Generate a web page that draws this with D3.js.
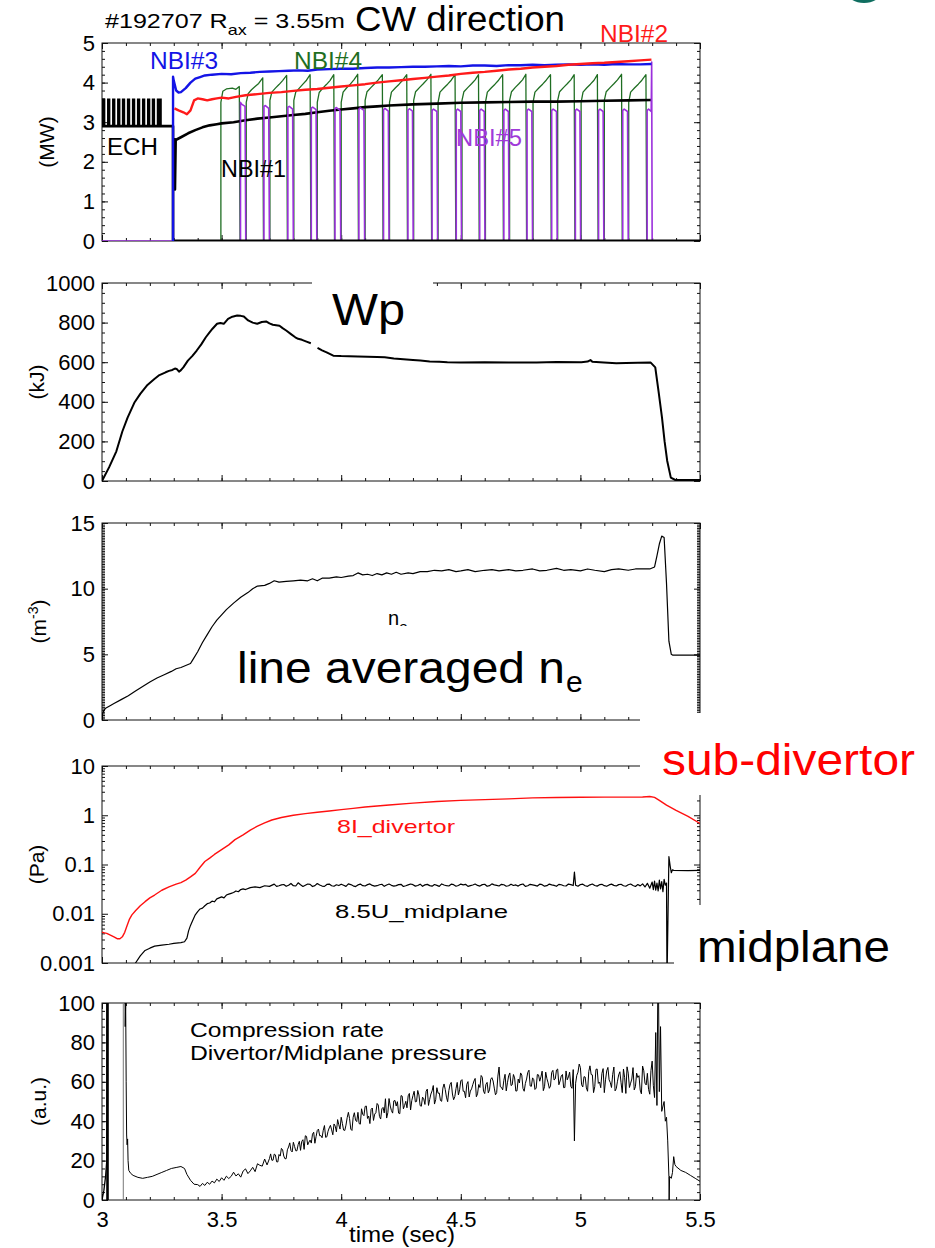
<!DOCTYPE html>
<html>
<head>
<meta charset="utf-8">
<script src="https://cdn.jsdelivr.net/npm/d3@7"></script>
<style>
  body { margin: 0; background: #fff; }
  text { font-family: "Liberation Sans", Arial, Helvetica, sans-serif; }
</style>
</head>
<body>
<svg id="chart" width="935" height="1248"></svg>
<script>
// ---------- tick labels ----------
const xTicks   = [3, 3.5, 4, 4.5, 5, 5.5];
const mwTicks  = [0, 1, 2, 3, 4, 5];
const kjTicks  = [0, 200, 400, 600, 800, 1000];
const neTicks  = [0, 5, 10, 15];
const paTicks  = [0.001, 0.01, 0.1, 1, 10];
const paLabels = ['0.001', '0.01', '0.1', '1', '10'];
const auTicks  = [0, 20, 40, 60, 80, 100];

// ---------- heating (MW) ----------
const echRise = [3.000, 3.021, 3.042, 3.063, 3.083, 3.104, 3.125, 3.146, 3.167, 3.188, 3.208, 3.229];
const echFall = [3.014, 3.035, 3.056, 3.077, 3.097, 3.118, 3.139, 3.160, 3.181, 3.202, 3.222, 3.250];
const echBase = 2.9, echTop = 3.6, echEnd = 3.297;

const nbi3 = [[3.297,0],[3.297,4.15],[3.30,4.05],[3.31,3.8],[3.32,3.75],[3.33,3.76],[3.35,3.86],[3.37,4.0],
  [3.39,4.1],[3.41,4.14],[3.43,4.18],[3.46,4.2],[3.5,4.22],[3.54,4.21],[3.58,4.24],[3.62,4.25],[3.66,4.27],
  [3.70,4.28],[3.74,4.29],[3.78,4.3],[3.82,4.31],[3.86,4.30],[3.9,4.33],[3.95,4.34],[4.0,4.35],[4.05,4.35],
  [4.1,4.37],[4.15,4.38],[4.2,4.38],[4.25,4.39],[4.3,4.40],[4.35,4.40],[4.4,4.41],[4.45,4.42],[4.5,4.41],
  [4.55,4.43],[4.6,4.43],[4.65,4.42],[4.7,4.44],[4.75,4.44],[4.8,4.45],[4.85,4.44],[4.9,4.45],[4.95,4.46],
  [5.0,4.45],[5.05,4.46],[5.1,4.45],[5.15,4.47],[5.2,4.46],[5.25,4.46],[5.297,4.47]];

const nbi2 = [[3.303,3.35],[3.32,3.3],[3.34,3.25],[3.355,3.2],[3.37,3.3],[3.385,3.55],[3.40,3.6],
  [3.42,3.58],[3.44,3.55],[3.46,3.58],[3.48,3.6],[3.50,3.62],[3.53,3.6],[3.56,3.64],[3.6,3.68],[3.65,3.71],
  [3.7,3.74],[3.75,3.76],[3.8,3.79],[3.85,3.82],[3.9,3.84],[3.95,3.87],[4.0,3.9],[4.05,3.93],[4.1,3.96],
  [4.15,4.0],[4.2,4.03],[4.25,4.06],[4.3,4.09],[4.35,4.12],[4.4,4.15],[4.45,4.18],[4.5,4.22],[4.55,4.25],
  [4.6,4.27],[4.65,4.3],[4.7,4.33],[4.75,4.35],[4.8,4.38],[4.85,4.4],[4.9,4.42],[4.95,4.45],[5.0,4.47],
  [5.05,4.49],[5.1,4.5],[5.15,4.52],[5.2,4.54],[5.25,4.56],[5.297,4.58]];

const nbi1 = [[3.303,2.6],[3.305,1.3],[3.308,2.55],[3.33,2.62],[3.36,2.72],[3.39,2.8],[3.42,2.87],
  [3.45,2.92],[3.48,2.95],[3.5,2.97],[3.55,3.0],[3.6,3.05],[3.65,3.09],[3.7,3.12],[3.75,3.15],[3.8,3.18],
  [3.85,3.21],[3.9,3.25],[3.95,3.29],[4.0,3.32],[4.05,3.35],[4.1,3.38],[4.15,3.40],[4.2,3.42],[4.3,3.45],
  [4.4,3.47],[4.5,3.49],[4.6,3.5],[4.7,3.51],[4.8,3.52],[4.9,3.52],[5.0,3.53],[5.1,3.54],[5.2,3.55],
  [5.297,3.56]];
const nbiZero = [[3.30,0],[5.5,0]];

const nbi4 = [
  [3.497,0],[3.497,3.5],[3.505,3.78],[3.52,3.84],[3.545,3.86],[3.56,3.83],[3.574,3.9],[3.577,0],
  [3.603,0],[3.603,3.5],[3.611,3.72],[3.625,3.82],[3.64,3.9],[3.655,3.98],[3.672,4.12],[3.675,0],
  [3.702,0],[3.702,3.55],[3.71,3.76],[3.725,3.86],[3.74,3.95],[3.755,4.05],[3.772,4.18],[3.775,0],
  [3.802,0],[3.802,3.55],[3.81,3.76],[3.825,3.86],[3.84,3.96],[3.855,4.06],[3.870,4.2],[3.873,0],
  [3.900,0],[3.900,3.5],[3.908,3.75],[3.923,3.86],[3.938,3.95],[3.953,4.05],[3.969,4.2],[3.972,0],
  [4.000,0],[4.000,3.5],[4.008,3.76],[4.023,3.87],[4.038,3.96],[4.053,4.07],[4.069,4.21],[4.072,0],
  [4.100,0],[4.100,3.55],[4.108,3.77],[4.125,3.88],[4.14,3.97],[4.155,4.07],[4.172,4.2],[4.175,0],
  [4.202,0],[4.202,3.5],[4.21,3.76],[4.227,3.87],[4.242,3.96],[4.257,4.06],[4.274,4.2],[4.277,0],
  [4.303,0],[4.303,3.55],[4.311,3.77],[4.328,3.88],[4.343,3.97],[4.358,4.07],[4.375,4.21],[4.378,0],
  [4.405,0],[4.405,3.5],[4.413,3.76],[4.43,3.87],[4.445,3.96],[4.46,4.06],[4.476,4.2],[4.479,0],
  [4.505,0],[4.505,3.55],[4.513,3.77],[4.53,3.88],[4.545,3.97],[4.56,4.07],[4.574,4.2],[4.577,0],
  [4.603,0],[4.603,3.5],[4.611,3.76],[4.628,3.87],[4.643,3.96],[4.658,4.06],[4.675,4.2],[4.678,0],
  [4.704,0],[4.704,3.55],[4.712,3.77],[4.728,3.88],[4.743,3.97],[4.758,4.07],[4.772,4.21],[4.775,0],
  [4.802,0],[4.802,3.5],[4.81,3.76],[4.827,3.87],[4.842,3.96],[4.857,4.06],[4.875,4.2],[4.878,0],
  [4.905,0],[4.905,3.55],[4.913,3.77],[4.93,3.88],[4.945,3.97],[4.96,4.07],[4.974,4.2],[4.977,0],
  [5.003,0],[5.003,3.5],[5.011,3.76],[5.027,3.87],[5.042,3.96],[5.057,4.06],[5.071,4.2],[5.074,0],
  [5.100,0],[5.100,3.55],[5.108,3.77],[5.125,3.88],[5.14,3.97],[5.155,4.07],[5.172,4.21],[5.175,0],
  [5.202,0],[5.202,3.5],[5.21,3.76],[5.227,3.87],[5.242,3.96],[5.257,4.06],[5.274,4.2],[5.277,0]];

const nbi5 = [[3.0,0],[3.296,0],[3.296,3.6],[3.298,0],
  [3.579,0],[3.579,3.5],[3.585,3.45],[3.598,3.4],[3.601,0],
  [3.677,0],[3.677,3.4],[3.683,3.42],[3.697,3.35],[3.700,0],
  [3.777,0],[3.777,3.38],[3.783,3.4],[3.797,3.33],[3.800,0],
  [3.875,0],[3.875,3.36],[3.881,3.38],[3.895,3.32],[3.898,0],
  [3.974,0],[3.974,3.35],[3.98,3.37],[3.995,3.3],[3.998,0],
  [4.074,0],[4.074,3.33],[4.08,3.36],[4.095,3.3],[4.098,0],
  [4.177,0],[4.177,3.32],[4.183,3.35],[4.197,3.28],[4.200,0],
  [4.279,0],[4.279,3.3],[4.285,3.34],[4.298,3.28],[4.301,0],
  [4.380,0],[4.380,3.3],[4.386,3.33],[4.400,3.27],[4.403,0],
  [4.481,0],[4.481,3.3],[4.487,3.33],[4.500,3.27],[4.503,0],
  [4.579,0],[4.579,3.3],[4.585,3.33],[4.598,3.27],[4.601,0],
  [4.680,0],[4.680,3.3],[4.686,3.33],[4.699,3.27],[4.702,0],
  [4.777,0],[4.777,3.3],[4.783,3.33],[4.797,3.27],[4.800,0],
  [4.880,0],[4.880,3.3],[4.886,3.33],[4.900,3.27],[4.903,0],
  [4.979,0],[4.979,3.3],[4.985,3.33],[4.998,3.27],[5.001,0],
  [5.076,0],[5.076,3.3],[5.082,3.33],[5.095,3.27],[5.098,0],
  [5.177,0],[5.177,3.3],[5.183,3.33],[5.197,3.27],[5.200,0],
  [5.279,0],[5.279,3.3],[5.285,3.33],[5.296,3.27],[5.298,4.52],[5.300,0]];

// ---------- stored energy (kJ) ----------
const wpA = [[3.0,0],[3.03,70],[3.06,150],[3.085,250],[3.107,320],[3.135,395],[3.16,440],[3.19,485],
  [3.219,515],[3.24,535],[3.266,549],[3.28,556],[3.294,561],[3.305,568],[3.312,566],[3.322,552],
  [3.33,560],[3.34,574],[3.359,608],[3.378,632],[3.396,659],[3.415,690],[3.434,726],[3.448,748],
  [3.462,769],[3.481,794],[3.495,798],[3.509,794],[3.527,819],[3.545,830],[3.565,836],[3.58,834],
  [3.593,831],[3.611,811],[3.63,800],[3.649,794],[3.668,803],[3.686,806],[3.7,796],[3.714,789],
  [3.742,784],[3.755,772],[3.770,760],[3.79,742],[3.808,726],[3.82,718],[3.836,713],[3.855,704],[3.873,696]];
const wpB = [[3.901,672],[3.92,660],[3.939,650],[3.967,633],[4.0,631],[4.032,630],[4.07,629],[4.11,628],
  [4.15,626],[4.182,625],[4.22,619],[4.26,615],[4.3,611],[4.331,608],[4.37,604],[4.41,602],[4.444,600],
  [4.5,599],[4.6,600],[4.7,598],[4.817,598],[4.9,601],[5.004,600],[5.03,603],[5.042,611],[5.05,602],
  [5.098,598],[5.15,595],[5.191,596],[5.24,597],[5.294,598],[5.313,574],[5.327,450],[5.341,321],
  [5.352,200],[5.363,101],[5.378,17],[5.397,5],[5.5,5]];

// ---------- line averaged density ----------
const ne = [[3.0,0],[3.003,0.5],[3.007,0.7],[3.015,0.9],[3.03,1.05],[3.05,1.25],[3.08,1.55],[3.11,1.85],
  [3.14,2.2],[3.17,2.55],[3.2,2.9],[3.23,3.2],[3.26,3.45],[3.29,3.7],[3.31,3.9],[3.33,4.0],[3.35,4.15],
  [3.37,4.3],[3.38,4.6],[3.40,5.2],[3.42,5.9],[3.44,6.5],[3.46,7.1],[3.48,7.6],[3.50,8.0],[3.52,8.4],
  [3.55,8.9],[3.58,9.35],[3.61,9.7],[3.63,10.0],[3.65,10.2],[3.68,10.25],[3.70,10.4],[3.72,10.6],
  [3.74,10.5],[3.77,10.55],[3.80,10.6],[3.83,10.65],[3.86,10.6],[3.88,10.75],[3.90,10.6],[3.92,10.8],
  [3.95,10.8],[3.98,10.9],[4.0,10.85],[4.03,10.95],[4.05,11.0],[4.07,11.2],[4.09,11.05],[4.11,11.1],
  [4.13,11.0],[4.15,11.15],[4.17,11.05],[4.19,11.2],[4.21,11.1],[4.23,11.25],[4.25,11.1],[4.28,11.2],
  [4.30,11.15],[4.33,11.3],[4.36,11.3],[4.39,11.4],[4.42,11.35],[4.45,11.45],[4.48,11.3],[4.5,11.35],
  [4.53,11.45],[4.56,11.3],[4.6,11.4],[4.63,11.45],[4.66,11.35],[4.7,11.45],[4.73,11.35],[4.76,11.4],
  [4.8,11.5],[4.83,11.35],[4.86,11.4],[4.9,11.55],[4.93,11.4],[4.96,11.45],[5.0,11.35],[5.03,11.5],
  [5.06,11.4],[5.1,11.3],[5.13,11.45],[5.16,11.5],[5.2,11.4],[5.23,11.5],[5.26,11.5],[5.29,11.5],
  [5.31,11.65],[5.32,12.5],[5.33,13.4],[5.34,14.0],[5.35,13.9],[5.36,10.4],[5.37,6.0],[5.38,5.0],
  [5.385,4.94],[5.5,4.94]];

// ---------- neutral pressure (Pa) ----------
const divertor = [[3.0,0.0042],[3.01,0.0041],[3.02,0.004],[3.035,0.0037],[3.05,0.0034],[3.065,0.0031],
  [3.075,0.0031],[3.085,0.0034],[3.095,0.0042],[3.105,0.0058],[3.115,0.0078],[3.125,0.0095],[3.14,0.0115],
  [3.16,0.0145],[3.18,0.0176],[3.2,0.021],[3.22,0.024],[3.25,0.03],[3.28,0.035],[3.31,0.04],[3.33,0.043],
  [3.35,0.048],[3.37,0.056],[3.39,0.066],[3.41,0.088],[3.43,0.115],[3.45,0.135],[3.47,0.16],[3.5,0.2],
  [3.53,0.25],[3.556,0.32],[3.59,0.4],[3.62,0.5],[3.65,0.6],[3.68,0.7],[3.71,0.8],[3.75,0.9],[3.8,1.0],
  [3.85,1.08],[3.9,1.15],[3.95,1.22],[4.0,1.3],[4.05,1.38],[4.1,1.47],[4.2,1.62],[4.3,1.76],[4.4,1.9],
  [4.5,2.0],[4.6,2.08],[4.7,2.15],[4.8,2.25],[4.9,2.3],[5.0,2.32],[5.1,2.33],[5.2,2.33],[5.26,2.35],
  [5.29,2.4],[5.31,2.3],[5.33,2.0],[5.36,1.6],[5.4,1.25],[5.45,0.95],[5.5,0.68]];

const midplane = [[3.13,0.0008],[3.14,0.001],[3.16,0.0014],[3.18,0.0018],[3.2,0.002],[3.22,0.0022],
  [3.25,0.0023],[3.28,0.0024],[3.3,0.0025],[3.33,0.0026],[3.345,0.0027],[3.355,0.0032],[3.362,0.0045],
  [3.37,0.0058],[3.38,0.0075],[3.39,0.0095],[3.40,0.011],[3.41,0.0125],[3.42,0.013],[3.43,0.0145],
  [3.44,0.016],[3.45,0.0165],[3.46,0.018],[3.47,0.0175],[3.48,0.02],[3.49,0.021],[3.50,0.022],[3.51,0.021],
  [3.52,0.024],[3.53,0.025],[3.54,0.026],[3.55,0.027],[3.56,0.029],[3.57,0.028],[3.58,0.031],[3.59,0.032],
  [3.6,0.031],[3.62,0.034],[3.64,0.035],[3.66,0.034],[3.68,0.037],[3.70,0.036],[3.72,0.04],[3.73,0.036],
  [3.74,.0370],[3.75,.0385],[3.76,.0392],[3.77,.0361],[3.78,.0378],[3.79,.0412],[3.80,.0371],[3.81,.0366],
  [3.82,.0425],[3.83,.0388],[3.84,.0359],[3.85,.0380],[3.86,.0402],[3.87,.0395],[3.88,.0357],[3.89,.0372],
  [3.90,.0410],[3.91,.0383],[3.92,.0365],[3.93,.0359],[3.94,.0394],[3.95,.0401],[3.96,.0370],[3.97,.0362],
  [3.98,.0388],[3.99,.0374],[4.00,.0398],[4.01,.0380],[4.02,.0360],[4.03,.0403],[4.04,.0391],[4.05,.0369],
  [4.06,.0356],[4.07,.0385],[4.08,.0400],[4.09,.0372],[4.10,.0366],[4.11,.0390],[4.12,.0404],[4.13,.0376],
  [4.14,.0363],[4.15,.0371],[4.16,.0388],[4.17,.0397],[4.18,.0360],[4.19,.0384],[4.20,.0402],[4.21,.0378],
  [4.22,.0365],[4.23,.0373],[4.24,.0390],[4.25,.0396],[4.26,.0358],[4.27,.0370],[4.28,.0385],[4.29,.0401],
  [4.30,.0389],[4.31,.0364],[4.32,.0375],[4.33,.0399],[4.34,.0361],[4.35,.0386],[4.36,.0395],[4.37,.0372],
  [4.38,.0363],[4.39,.0392],[4.40,.0377],[4.41,.0360],[4.42,.0403],[4.43,.0383],[4.44,.0371],[4.45,.0366],
  [4.46,.0398],[4.47,.0389],[4.48,.0362],[4.49,.0374],[4.50,.0400],[4.51,.0387],[4.52,.0396],[4.53,.0359],
  [4.54,.0373],[4.55,.0384],[4.56,.0401],[4.57,.0376],[4.58,.0365],[4.59,.0390],[4.60,.0397],[4.61,.0361],
  [4.62,.0372],[4.63,.0404],[4.64,.0386],[4.65,.0378],[4.66,.0366],[4.67,.0395],[4.68,.0388],[4.69,.0362],
  [4.70,.0370],[4.71,.0399],[4.72,.0375],[4.73,.0385],[4.74,.0364],[4.75,.0391],[4.76,.0402],[4.77,.0360],
  [4.78,.0371],[4.79,.0396],[4.80,.0387],[4.81,.0377],[4.82,.0365],[4.83,.0398],[4.84,.0389],[4.85,.0363],
  [4.86,.0372],[4.87,.0400],[4.88,.0385],[4.89,.0376],[4.90,.0361],[4.91,.0395],[4.92,.0388],[4.93,.0370],
  [4.94,.0366],[4.95,.0401],[4.96,.0390],[4.97,.0374],[4.975,.0700],[4.98,.0380],[4.99,.0362],[5.00,.0392],
  [5.01,.0398],[5.02,.0371],[5.03,.0360],[5.04,.0386],[5.05,.0402],[5.06,.0375],[5.07,.0364],[5.08,.0389],
  [5.09,.0396],[5.10,.0372],[5.11,.0361],[5.12,.0385],[5.13,.0399],[5.14,.0377],[5.15,.0366],[5.16,.0390],
  [5.17,.0397],[5.18,.0370],[5.19,.0362],[5.20,.0388],[5.21,.0401],[5.22,.0374],[5.23,.0358],[5.24,.0392],
  [5.25,.0368],[5.26,.0405],[5.27,.0350],[5.28,.0415],[5.29,.0330],[5.30,.0440],[5.305,.0310],[5.31,.0460],
  [5.315,.0300],[5.32,.0420],[5.325,.0290],[5.33,.0480],[5.335,.0320],[5.34,.0450],[5.345,.0280],
  [5.35,.0500],[5.355,.0380],[5.36,.0420],[5.362,.0004],[5.37,.145],[5.375,.095],[5.38,.068],[5.385,.078],
  [5.39,.076],[5.45,.075],[5.5,.076]];

// ---------- compression rate (a.u.) ----------
const comprStart = [[3.0,0],[3.008,5],[3.015,12],[3.02,20],[3.021,130]];
const comprSpike = [[3.023,130],[3.023,0]];
const comprGap   = [[3.089,0],[3.089,130]];
const compr = [[3.095,130],[3.097,88],[3.099,100],[3.101,60],[3.103,33],[3.105,28],[3.107,31],[3.109,20],
  [3.112,15],[3.12,13.5],[3.13,12.5],[3.15,11.5],[3.17,11],[3.19,11.5],[3.21,12],[3.23,13],[3.25,14],
  [3.27,15],[3.29,16],[3.31,16.5],[3.33,17],[3.345,16],[3.355,13],[3.37,10],[3.385,8],
  [3.40,7.8],[3.41,6.9],[3.42,8.4],[3.43,7.4],[3.44,9.0],[3.45,8.0],[3.46,9.6],[3.47,8.7],[3.48,10.6],
  [3.49,9.4],[3.50,11.3],[3.51,10.0],[3.52,12.1],[3.53,10.9],[3.54,12.0],
  [3.55,14.1],[3.56,12.2],[3.57,13.3],[3.58,11.6],[3.59,14.7],[3.60,15.8],[3.61,13.4],[3.62,14.8],[3.63,16.6],
  [3.64,14.4],[3.65,18.4],[3.66,17.6],[3.67,17.2],[3.68,20.8],[3.69,17.8],[3.70,21.0],[3.71,20.2],[3.72,23.3],
  [3.73,19.4],[3.74,23.1],[3.75,26.2],[3.76,22.3],[3.77,21.0],[3.78,26.9],[3.79,25.1],[3.80,29.3],[3.81,25.0],
  [3.82,28.1],[3.83,25.2],[3.84,30.6],[3.85,32.6],[3.86,28.0],[3.87,30.4],[3.88,33.4],[3.89,28.8],[3.90,35.3],
  [3.91,32.6],[3.92,31.6],[3.93,37.8],[3.94,32.1],[3.95,36.6],[3.96,35.6],[3.97,38.6],[3.98,34.6],[3.99,38.2],
  [4.00,42.0],[4.01,35.5],[4.02,38.0],[4.03,44.5],[4.04,36.0],[4.05,42.0],[4.06,40.5],[4.07,44.5],[4.08,38.5],
  [4.09,43.5],[4.10,47.5],[4.11,41.4],[4.12,38.8],[4.13,46.7],[4.14,43.6],[4.15,49.0],[4.16,42.4],[4.17,46.3],
  [4.18,44.2],[4.19,41.6],[4.20,51.5],[4.21,45.4],[4.22,50.3],[4.23,47.7],[4.24,44.1],[4.25,53.0],[4.26,46.3],
  [4.27,50.1],[4.28,52.9],[4.29,45.7],[4.30,53.0],[4.31,49.8],[4.32,55.6],[4.33,47.9],[4.34,52.2],[4.35,48.5],
  [4.36,56.3],[4.37,51.1],[4.38,55.4],[4.39,48.7],[4.40,57.0],[4.41,54.3],[4.42,50.1],[4.43,58.9],[4.44,52.2],
  [4.45,55.5],[4.46,59.7],[4.47,50.9],[4.48,56.6],[4.49,53.3],[4.50,60.5],[4.51,55.2],[4.52,51.9],[4.53,60.1],
  [4.54,55.3],[4.55,58.5],[4.56,61.7],[4.57,53.9],[4.58,57.1],[4.59,62.3],[4.60,54.0],[4.61,59.7],[4.62,55.9],
  [4.63,62.1],[4.64,56.8],[4.65,54.5],[4.66,67.5],[4.67,57.2],[4.68,60.8],[4.69,55.4],[4.70,63.0],[4.71,58.1],
  [4.72,63.7],[4.73,55.3],[4.74,61.4],[4.75,64.5],[4.76,56.6],[4.77,59.2],[4.78,64.8],[4.79,57.9],[4.80,62.0],
  [4.81,56.1],[4.82,63.7],[4.83,60.3],[4.84,65.4],[4.85,57.5],[4.86,61.6],[4.87,56.7],[4.88,64.8],[4.89,60.9],
  [4.90,66.0],[4.91,58.5],[4.92,63.0],[4.93,57.0],[4.94,65.5],[4.95,62.5],[4.96,57.6],[4.97,66.2],[4.975,30],
  [4.98,59.3],[4.99,64.9],[5.00,67.2],[5.01,57.4],[5.02,62.4],[5.03,55.2],[5.04,68.1],[5.05,63.5],[5.06,57.5],
  [5.07,66.5],[5.08,59.9],[5.09,64.3],[5.10,54.5],[5.11,65.5],[5.12,61.0],[5.13,57.1],[5.14,67.5],[5.15,56.5],
  [5.16,63.5],[5.17,59.5],[5.18,66.5],[5.19,54.1],[5.20,64.4],[5.21,59.3],[5.22,67.2],[5.23,57.5],[5.24,62.2],
  [5.25,55.8],[5.26,68.0],[5.27,59.3],[5.28,64.3],[5.29,53.7],[5.30,70.5],[5.305,58],[5.31,52.0],[5.315,85],
  [5.32,48.0],[5.325,130],[5.33,55],[5.335,88],[5.34,45],[5.35,50],[5.355,40],[5.36,42],[5.365,30],[5.37,12],
  [5.371,0],[5.373,12],[5.38,11],[5.385,14],[5.39,22],[5.395,18],[5.40,17],[5.42,15],[5.44,14],[5.46,12.5],
  [5.48,11],[5.5,9.5]];
// in-between samples of the noisy stretch
const comprMid = [[3.705,23.4],[3.715,20.2],[3.725,22.9],[3.735,19.3],[3.745,22.3],[3.755,25.5],[3.765,20.9],
  [3.775,25.5],[3.785,29.0],[3.795,24.4],[3.805,27.2],[3.815,25.0],[3.825,29.8],[3.835,29.7],[3.845,25.7],
  [3.855,32.3],[3.865,29.4],[3.875,28.9],[3.885,34.4],[3.895,32.2],[3.905,36.0],[3.915,32.7],[3.925,35.4],
  [3.935,31.8],[3.945,34.9],[3.955,37.9],[3.965,33.1],[3.975,37.5],[3.985,40.8],[3.995,36.0],[4.005,38.8],
  [4.015,35.3],[4.025,41.8],[4.035,41.3],[4.045,35.3],[4.055,44.3],[4.065,39.8],[4.075,38.8],[4.085,46.3],
  [4.095,42.8],[4.105,47.7],[4.115,42.6],[4.125,46.0],[4.135,40.4],[4.145,44.3],[4.155,48.2],[4.165,41.1],
  [4.175,47.0],[4.185,51.4],[4.195,44.3],[4.205,47.7],[4.215,44.1],[4.225,50.5],[4.235,49.9],[4.245,43.8],
  [4.255,52.7],[4.265,48.0],[4.275,46.8],[4.285,54.1],[4.295,50.4],[4.305,55.2],[4.315,50.0],[4.325,53.3],
  [4.335,47.6],[4.345,51.4],[4.355,55.2],[4.365,48.0],[4.375,53.8],[4.385,58.1],[4.395,50.9],[4.405,54.2],
  [4.415,50.5],[4.425,56.8],[4.435,56.1],[4.445,49.9],[4.455,58.6],[4.465,53.8],[4.475,52.5],[4.485,59.7],
  [4.495,55.9],[4.505,61.1],[4.515,55.2],[4.525,58.7],[4.535,52.3],[4.545,56.4],[4.555,60.4],[4.565,52.4],
  [4.575,58.6],[4.585,63.2],[4.595,55.2],[4.605,58.7],[4.615,54.4],[4.625,61.3],[4.635,60.4],[4.645,53.4],
  [4.655,62.9],[4.665,57.5],[4.675,55.9],[4.685,63.8],[4.695,59.5],[4.705,64.5],[4.715,58.5],[4.725,62.0],
  [4.735,55.4],[4.745,59.4],[4.755,63.4],[4.765,55.2],[4.775,61.4],[4.785,65.9],[4.795,57.7],[4.805,61.1],
  [4.815,56.8],[4.825,63.5],[4.835,62.5],[4.845,55.5],[4.855,64.9],[4.865,59.5],[4.875,57.9],[4.885,65.8],
  [4.895,61.5],[4.905,66.5],[4.915,60.4],[4.925,63.7],[4.935,57.1],[4.945,61.0],[4.955,64.9],[4.965,56.7],
  [4.985,63.3],[4.995,69.0],[5.005,58.5],[5.015,62.6],[5.025,56.9],[5.035,65.2],[5.045,63.7],[5.055,54.5],
  [5.065,66.3],[5.075,59.2],[5.085,57.0],[5.095,66.7],[5.105,61.0],[5.115,67.3],[5.125,59.6],[5.135,63.8],
  [5.145,55.4],[5.155,60.3],[5.165,65.1],[5.175,54.5],[5.185,62.1],[5.195,67.6],[5.205,57.1],[5.215,61.4],
  [5.225,55.9],[5.235,64.4],[5.245,63.1],[5.255,53.9],[5.265,65.6],[5.275,58.4],[5.285,56.1],[5.295,65.7]];

// ---------- layout ----------
const svg = d3.select('#chart');
const x = d3.scaleLinear().domain([3, 5.5]).range([102, 700]);
const xMinor = d3.range(30, 56).map(d => d / 10);

const panels = [
  { y: d3.scaleLinear().domain([0, 5]).range([241, 43]),       ticks: mwTicks, minor: d3.range(0, 26).map(d => d / 5), lab: '(MW)',  lx: 47 },
  { y: d3.scaleLinear().domain([0, 1000]).range([481, 283]),   ticks: kjTicks, minor: d3.range(0, 1001, 50),            lab: '(kJ)',  lx: 37 },
  { y: d3.scaleLinear().domain([0, 15]).range([720, 523]),     ticks: neTicks, minor: d3.range(0, 121).map(d => d / 8), lab: null,    lx: 39 },
  { y: d3.scaleLog().domain([0.001, 10]).range([963, 766]),    ticks: paTicks, minor: [1,10,100,1000].flatMap(m => d3.range(2, 10).map(k => k * m / 1000)), lab: '(Pa)', lx: 37 },
  { y: d3.scaleLinear().domain([0, 100]).range([1200, 1003]),  ticks: auTicks, minor: d3.range(0, 101, 4),              lab: '(a.u.)', lx: 39 }
];

const ink = '#111';
const defs = svg.append('defs');

panels.forEach((p, i) => {
  const [yb, yt] = p.y.range();
  defs.append('clipPath').attr('id', 'clip' + i).append('rect')
    .attr('x', x(3)).attr('y', yt).attr('width', x(5.5) - x(3)).attr('height', yb - yt);

  const g = svg.append('g');
  g.append('rect').attr('x', x(3)).attr('y', yt).attr('width', x(5.5) - x(3)).attr('height', yb - yt)
    .attr('fill', 'none').attr('stroke', ink).attr('stroke-width', 1);

  const tick = (axis, vals, size, tr) => {
    const a = g.append('g').attr('transform', tr).call(axis.tickValues(vals).tickSize(size).tickFormat(''));
    a.select('.domain').remove();
    a.selectAll('line').attr('stroke', ink);
  };
  tick(d3.axisBottom(x), xMinor, -3, `translate(0,${yb})`);
  tick(d3.axisBottom(x), xTicks, -6, `translate(0,${yb})`);
  tick(d3.axisTop(x), xMinor, -3, `translate(0,${yt})`);
  tick(d3.axisTop(x), xTicks, -6, `translate(0,${yt})`);
  tick(d3.axisLeft(p.y), p.minor, -3, `translate(${x(3)},0)`);
  tick(d3.axisLeft(p.y), p.ticks, -6, `translate(${x(3)},0)`);
  tick(d3.axisRight(p.y), p.minor, -3, `translate(${x(5.5)},0)`);
  tick(d3.axisRight(p.y), p.ticks, -6, `translate(${x(5.5)},0)`);

  const fmt = i === 3 ? (d => paLabels[paTicks.indexOf(d)]) : (d => String(d));
  const la = g.append('g').attr('transform', `translate(${x(3)},0)`)
    .call(d3.axisLeft(p.y).tickValues(p.ticks).tickSize(0).tickPadding(7).tickFormat(fmt));
  la.select('.domain').remove();
  la.attr('font-family', null).attr('font-size', null);
  la.selectAll('text').attr('font-size', 22).attr('fill', '#000');

  // y title
  const ym = (yb + yt) / 2;
  const t = g.append('text').attr('transform', `translate(${p.lx},${ym}) rotate(-90)`)
    .attr('text-anchor', 'middle').attr('dy', '0.35em').attr('font-size', 21);
  if (p.lab) {
    t.text(p.lab);
  } else {
    t.append('tspan').text('(m');
    t.append('tspan').attr('font-size', 14).attr('dy', '-0.6em').text('-3');
    t.append('tspan').attr('dy', '0.4em').text(')');
  }
});

// x labels on bottom panel
const xl = svg.append('g').attr('transform', `translate(0,1200)`)
  .call(d3.axisBottom(x).tickValues(xTicks).tickSize(0).tickPadding(11).tickFormat(d => String(d)));
xl.select('.domain').remove();
xl.attr('font-family', null).attr('font-size', null);
xl.selectAll('text').attr('font-size', 22).attr('fill', '#000');
svg.append('text').attr('x', 402).attr('y', 1242).attr('text-anchor', 'middle').attr('font-size', 22)
  .attr('textLength', 106).attr('lengthAdjust', 'spacingAndGlyphs').text('time (sec)');

// ---------- data marks ----------
function plot(i, data, color, w) {
  const p = panels[i];
  const line = d3.line().x(d => x(d[0])).y(d => p.y(d[1]));
  svg.append('path').attr('clip-path', `url(#clip${i})`).datum(data)
    .attr('d', line).attr('fill', 'none').attr('stroke', color).attr('stroke-width', w)
    .attr('stroke-linejoin', 'round');
}

// panel 1: ECH, built from its on/off times
const ech = [];
echRise.forEach((r, k) => { ech.push([r, echBase], [r, echTop], [echFall[k], echTop], [echFall[k], echBase]); });
const p0 = panels[0];
svg.append('path').attr('clip-path', 'url(#clip0)').datum(ech)
  .attr('d', d3.area().x(d => x(d[0])).y0(p0.y(echBase)).y1(d => p0.y(d[1])))
  .attr('fill', '#000');
plot(0, [[3.0, echBase], [echEnd, echBase], [echEnd, 0]], '#000', 2.6);

plot(0, nbi4, '#1f6e22', 1.3);
plot(0, nbi1, '#000', 2.6);
plot(0, nbi5, '#9b30dc', 1.6);
plot(0, nbiZero, '#000', 3);
plot(0, nbi3, '#1414e6', 2.4);
plot(0, nbi2, '#ff1a1a', 2.4);

// panel 2
plot(1, wpA, '#000', 2);
plot(1, wpB, '#000', 2);
// panel 3
plot(2, ne, '#000', 1.2);
// panel 4
plot(3, divertor, '#ff1010', 1.4);
plot(3, midplane, '#000', 1.2);
// panel 5
plot(4, comprStart, '#000', 1.3);
plot(4, comprSpike, '#000', 2.6);
plot(4, comprGap, '#777', 1);
plot(4, d3.sort(compr.concat(comprMid), d => d[0]), '#000', 1);

// ---------- annotations ----------
const T = (xx, yy, s, size, color, len) => {
  const t = svg.append('text').attr('x', xx).attr('y', yy).attr('font-size', size).attr('fill', color || '#000').text(s);
  if (len) t.attr('textLength', len).attr('lengthAdjust', 'spacingAndGlyphs');
  return t;
};

// small n_e label partially hidden by the box below
const ns = T(388, 625, 'n', 20);
ns.append('tspan').attr('font-size', 15).attr('dy', 7).text('e');

// white boxes that cover parts of the frames
const box = (x0, y0, x1, y1) => svg.append('rect').attr('x', x0).attr('y', y0)
  .attr('width', x1 - x0).attr('height', y1 - y0).attr('fill', '#fff');
box(312, 276, 433, 346);
box(226, 626, 598, 712);
box(640, 713, 935, 795);
box(674, 905, 935, 985);

// title
const tt = T(105, 28, '#192707 R', 21, '#000', 240);
tt.append('tspan').attr('font-size', 15).attr('dy', 7).text('ax');
tt.append('tspan').attr('dy', -7).text(' = 3.55m');
T(355, 31, 'CW direction', 35, '#000', 210);

T(600, 42, 'NBI#2', 23, '#ff1a1a', 68);
T(150, 69, 'NBI#3', 23, '#1414e6', 68);
T(294, 69, 'NBI#4', 23, '#1f6e22', 68);
T(456, 146, 'NBI#5', 23, '#a03ad8', 66);
T(221, 177, 'NBI#1', 23, '#000', 65);
T(107, 155, 'ECH', 23, '#000', 51);

T(332, 325, 'Wp', 44, '#000', 73);
T(237, 683, 'line averaged n', 44, '#000', 328);
T(566, 692, 'e', 30);

T(662, 775, 'sub-divertor', 44, '#ff0000', 253);
T(697, 962, 'midplane', 44, '#000', 193);
T(337, 833, '8I_divertor', 19, '#ff1010', 118);
T(335, 918, '8.5U_midplane', 19, '#000', 173);

T(190, 1037, 'Compression rate', 21, '#000', 194);
T(190, 1060, 'Divertor/Midplane pressure', 21, '#000', 297);

// logo fragment in the corner
svg.append('ellipse').attr('cx', 864).attr('cy', -8).attr('rx', 17).attr('ry', 11).attr('fill', '#0f6e60');
</script>
</body>
</html>
